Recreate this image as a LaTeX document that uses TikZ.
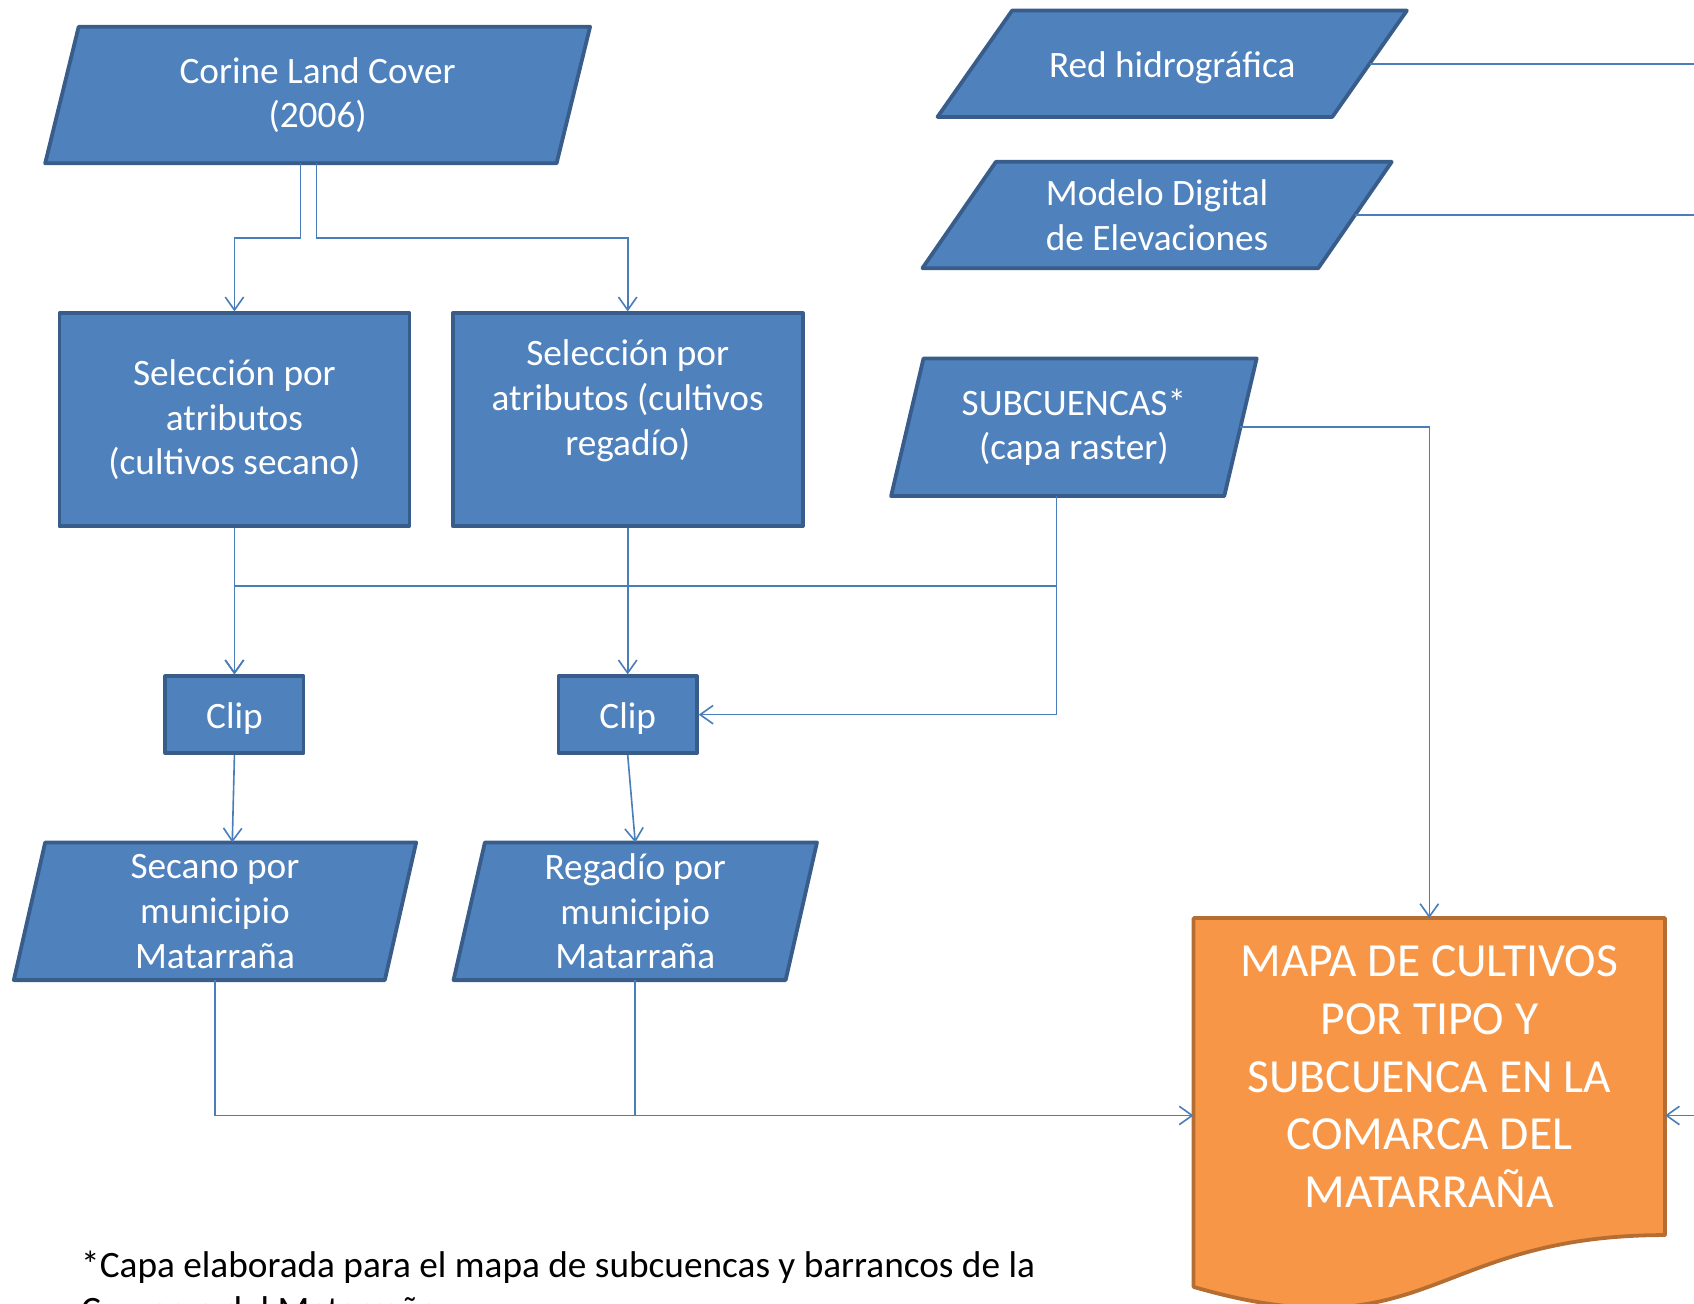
\documentclass[tikz,border=0pt]{standalone}
\usepackage{fontspec}
\setmainfont{Carlito}
\usetikzlibrary{arrows.meta,calc}
\definecolor{bfill}{HTML}{4F81BD}
\definecolor{bline}{HTML}{385D8A}
\definecolor{conncol}{HTML}{4A7EBB}
\definecolor{ofill}{HTML}{F79646}
\definecolor{oline}{HTML}{B66D31}
\pgfdeclarelayer{background}
\pgfsetlayers{background,main}
\tikzset{
  paratext/.style={draw=none, inner sep=0pt, align=center, text=white,
    font=\fontsize{34.5}{41.5}\selectfont, execute at begin node={\rule{0pt}{32pt}}},
  rectbox/.style={draw=bline, fill=bfill, line width=3.5pt, line join=round,
    inner sep=0pt, align=center, text=white, font=\fontsize{34.5}{41.5}\selectfont,
    execute at begin node={\rule{0pt}{32pt}}},
  doctext/.style={draw=none, inner sep=0pt, align=center, text=white,
    font=\fontsize{44}{53.3}\selectfont},
  parashape/.style={draw=bline, fill=bfill, line width=3.5pt, line join=round},
  docshape/.style={draw=oline, fill=ofill, line width=3.5pt, line join=round},
  conn/.style={draw=conncol, line width=1.5pt},
  arr/.style={conn, -{Straight Barb[length=12pt,width=17pt]}},
}
\newcommand{\paradraw}[2]{%
  \path[parashape] (#1.south west) -- ([xshift=#2]#1.north west) -- (#1.north east)
    -- ([xshift=-#2]#1.south east) -- cycle;}
\begin{document}
\begin{tikzpicture}[x=1pt,y=-1pt]
\useasboundingbox (0,0) rectangle (1568,1207);
\clip (0,0) rectangle (1568,1207);

% parallelogram nodes (text + bounding box)
\node[paratext, minimum width=504pt, minimum height=126pt] (clc) at (294,88) {Corine Land Cover\\(2006)};
\node[paratext, minimum width=434pt, minimum height=98pt] (red) at (1085,59) {Red hidrográfica};
\node[paratext, minimum width=434pt, minimum height=98pt] (mde) at (1071,199) {Modelo Digital\\de Elevaciones};
\node[paratext, minimum width=338pt, minimum height=127pt] (sub) at (994,395.5) {SUBCUENCAS*\\(capa raster)};
\node[paratext, minimum width=372pt, minimum height=127pt] (sec) at (199,843.5) {Secano por\\municipio\\Matarraña};
\node[paratext, minimum width=336pt, minimum height=127pt] (reg) at (588,843.5) {Regadío por\\municipio\\Matarraña};

% rectangle nodes
\node[rectbox, minimum width=324pt, minimum height=197pt] (sel1) at (217,388.5) {Selección por\\atributos\\(cultivos secano)};
\node[rectbox, minimum width=324pt, minimum height=197pt] (sel2) at (581,388.5) {Selección por\\atributos (cultivos\\regadío)\\ };
\node[rectbox, minimum width=128pt, minimum height=71pt] (clip1) at (217,661.5) {Clip};
\node[rectbox, minimum width=128pt, minimum height=71pt] (clip2) at (581,661.5) {Clip};

% result document node (text area)
\node[doctext, minimum width=436pt, minimum height=293pt] (mapa) at (1323,996.5)
  {MAPA DE CULTIVOS\\POR TIPO Y\\SUBCUENCA EN LA\\COMARCA DEL\\MATARRAÑA};

\begin{pgfonlayer}{background}
  \paradraw{clc}{31pt}
  \paradraw{red}{69pt}
  \paradraw{mde}{68pt}
  \paradraw{sub}{30pt}
  \paradraw{sec}{29pt}
  \paradraw{reg}{29pt}
  \path[docshape] (mapa.south west) -- (mapa.north west) -- (mapa.north east) -- (mapa.south east)
    .. controls (mapa.south) and ([yshift=-111pt]mapa.south) .. ([yshift=-48pt]mapa.south west) -- cycle;
\end{pgfonlayer}

% helper coordinates
\coordinate (mapaL) at ([yshift=-36pt]mapa.west);
\coordinate (mapaR) at ([yshift=-36pt]mapa.east);
\coordinate (edgeR) at (1580,0);
\coordinate (redR) at ([xshift=-34pt]red.east);
\coordinate (mdeR) at ([xshift=-34pt]mde.east);
\coordinate (subR) at ([xshift=-15pt]sub.east);
\coordinate (subB) at ([xshift=-16pt]sub.south);
\coordinate (clcL) at ([xshift=-16pt]clc.south);
\coordinate (clcR) at ([xshift=-1pt]clc.south);
\coordinate (secT) at ([xshift=16pt]sec.north);

% connectors
\draw[arr] (clcL) -- ++(0,-69pt) -| (sel1.north);
\draw[arr] (clcR) -- ++(0,-69pt) -| (sel2.north);
\draw[arr] (sel1.south) -- (clip1.north);
\draw[arr] (sel2.south) -- (clip2.north);
\draw[arr] (subB) -- ++(0,-83pt) -| (clip1.north);
\draw[arr] (subB) |- (clip2.east);
\draw[arr] (subR) -| (mapa.north);
\draw[arr] (clip1.south) -- (secT);
\draw[arr] (clip2.south) -- (reg.north);
\draw[arr] (sec.south) |- (mapaL);
\draw[conn] (reg.south) -- (reg.south |- mapaL);
\draw[conn] (redR) -- (redR -| edgeR);
\draw[conn] (mdeR) -- (mdeR -| edgeR);
\draw[arr] (mapaR -| edgeR) -- (mapaR);

% footnote
\node[anchor=north west, inner sep=0pt, align=left, font=\fontsize{34.5}{41.5}\selectfont] (note) at (75,1158)
  {*Capa elaborada para el mapa de subcuencas y barrancos de la\\Comarca del Matarraña};
\end{tikzpicture}
\end{document}
